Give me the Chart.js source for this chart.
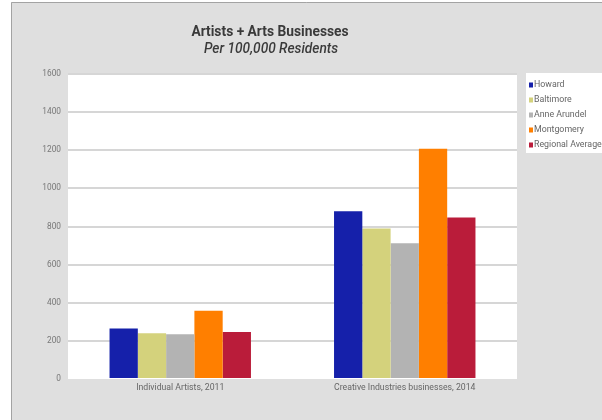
<!DOCTYPE html>
<html>
<head>
<meta charset="utf-8">
<script src="https://cdn.jsdelivr.net/npm/chart.js@4"></script>
<style>
  html, body { margin: 0; padding: 0; background: #ffffff; }
  #wrap { width: 602px; height: 420px; }
</style>
</head>
<body>
<div id="wrap"><canvas id="myBarChart" width="602" height="420"></canvas></div>
<script>
const categories = ['Individual Artists, 2011', 'Creative Industries businesses, 2014'];
const seriesNames = ['Howard', 'Baltimore', 'Anne Arundel', 'Montgomery', 'Regional Average'];
const howard = [265, 880];
const baltimore = [240, 789];
const anneArundel = [235, 712];
const montgomery = [358, 1208];
const regionalAverage = [247, 847];
const yTicks = [0, 200, 400, 600, 800, 1000, 1200, 1400, 1600];

const colors = ['#1520aa', '#d4d27c', '#b3b3b3', '#ff7f00', '#ba1c3a'];
const FONT = 'Roboto, "Liberation Sans", sans-serif';

// fondo gris, área blanca, título y leyenda
const decor = {
    id: 'decor',
    beforeDraw(chart) {
        const ctx = chart.ctx;
        const a = chart.chartArea;
        ctx.save();
        ctx.fillStyle = '#ffffff';
        ctx.fillRect(0, 0, chart.width, chart.height);
        ctx.fillStyle = '#dfdfdf';
        ctx.fillRect(11, 2, chart.width - 11, chart.height - 2);
        ctx.strokeStyle = '#a3a3a3';
        ctx.lineWidth = 1;
        ctx.beginPath();
        ctx.moveTo(11.5, chart.height);
        ctx.lineTo(11.5, 2.5);
        ctx.lineTo(chart.width, 2.5);
        ctx.stroke();
        ctx.fillStyle = '#ffffff';
        ctx.fillRect(a.left, a.top - 1, a.right - a.left, a.bottom - a.top + 1);
        ctx.restore();
    },
    afterDraw(chart) {
        const ctx = chart.ctx;
        ctx.save();
        // título
        ctx.fillStyle = '#3a3a3a';
        ctx.textAlign = 'center';
        ctx.textBaseline = 'middle';
        ctx.font = 'bold 13.8px ' + FONT;
        ctx.fillText('Artists + Arts Businesses', 270, 33);
        ctx.font = 'italic 500 13.7px ' + FONT;
        ctx.fillText('Per 100,000 Residents', 271, 50);
        // leyenda
        ctx.fillStyle = '#ffffff';
        ctx.fillRect(526, 73, chart.width - 526, 80);
        ctx.textAlign = 'left';
        ctx.font = '8.8px ' + FONT;
        chart.data.datasets.forEach((ds, i) => {
            const y = 85 + i * 15;
            ctx.fillStyle = ds.backgroundColor;
            ctx.fillRect(529, y - 2.5, 4, 5);
            ctx.fillStyle = '#666666';
            ctx.fillText(ds.label, 534, y);
        });
        ctx.restore();
    }
};

const values = [howard, baltimore, anneArundel, montgomery, regionalAverage];

new Chart(document.getElementById('myBarChart').getContext('2d'), {
    type: 'bar',
    data: {
        labels: categories,
        datasets: seriesNames.map((name, i) => ({
            label: name,
            data: values[i],
            backgroundColor: colors[i],
            borderWidth: 0,
            barPercentage: 1,
            categoryPercentage: 0.63
        }))
    },
    options: {
        responsive: false,
        animation: false,
        layout: { padding: { left: 11, top: 74, right: 85, bottom: 21 } },
        scales: {
            x: {
                grid: { display: false, drawTicks: false },
                border: { display: false },
                ticks: { color: '#666666', font: { family: FONT, size: 8.7 }, padding: 4, maxRotation: 0 },
                afterFit(scale) { scale.height = 20; }
            },
            y: {
                min: 0,
                max: 1600,
                afterBuildTicks(scale) { scale.ticks = yTicks.map(v => ({ value: v })); },
                grid: {
                    color: ctx => ctx.tick && ctx.tick.value === 0 ? 'rgba(0,0,0,0)' : '#d6d6d6',
                    lineWidth: 2,
                    drawTicks: false
                },
                border: { display: false },
                ticks: {
                    color: '#777777',
                    font: { family: FONT, size: 8.3 },
                    padding: 7,
                    callback: v => String(v)
                },
                afterFit(scale) { scale.width = 57; }
            }
        },
        plugins: {
            legend: { display: false },
            title: { display: false },
            tooltip: { enabled: false }
        }
    },
    plugins: [decor]
});
</script>
</body>
</html>
